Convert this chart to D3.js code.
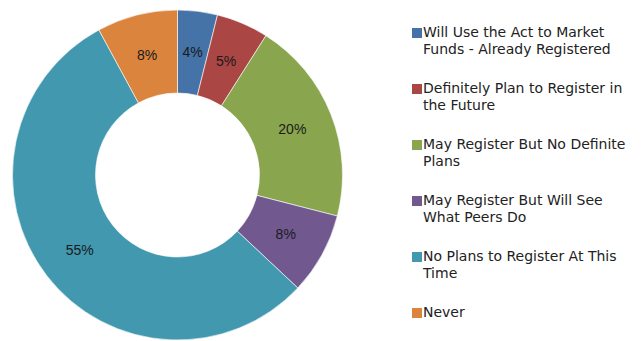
<!DOCTYPE html>
<html>
<head>
<meta charset="utf-8">
<script src="https://cdn.jsdelivr.net/npm/d3@7"></script>
<style>
  body { margin: 0; background: #fff; }
  svg text { font-family: "Liberation Sans", Arial, sans-serif; }
</style>
</head>
<body>
<div id="chart"></div>
<script>
// data
var categories = [
  ["Will Use the Act to Market", "Funds - Already Registered"],
  ["Definitely Plan to Register in", "the Future"],
  ["May Register But No Definite", "Plans"],
  ["May Register But Will See", "What Peers Do"],
  ["No Plans to Register At This", "Time"],
  ["Never"]
];
var values = [3.9, 5.1, 20.0, 8.0, 55.1, 7.9];
var labels = ["4%", "5%", "20%", "8%", "55%", "8%"];
var colors = ["#4572a7", "#aa4643", "#89a54e", "#71588f", "#4198af", "#db843d"];

var width = 644, height = 341;
var cx = 177.5, cy = 175, outerR = 165, innerR = 82;

var svg = d3.select("#chart")
    .append("svg")
    .attr("width", width)
    .attr("height", height);

var pie = d3.pie().sort(null).value(function(d) { return d; });
var arc = d3.arc().innerRadius(innerR).outerRadius(outerR);

var g = svg.append("g")
    .attr("transform", "translate(" + cx + "," + cy + ")");

var slices = g.selectAll("path")
    .data(pie(values))
    .enter()
    .append("path")
    .attr("d", arc)
    .style("fill", function(d, i) { return colors[i]; })
    .style("stroke", "#fff")
    .style("stroke-width", 0.6);

g.selectAll("text")
    .data(pie(values))
    .enter()
    .append("text")
    .attr("transform", function(d) { return "translate(" + arc.centroid(d) + ")"; })
    .attr("text-anchor", "middle")
    .attr("dy", "0.35em")
    .style("font-size", "14px")
    .style("fill", "#1a1a1a")
    .text(function(d, i) { return labels[i]; });

// legend
var legend_x = 412, legend_y = 32, legend_gap = 56, line_h = 17.5;
var leg = svg.append("g").selectAll("g")
    .data(categories)
    .enter()
    .append("g")
    .attr("transform", function(d, i) { return "translate(" + legend_x + "," + (legend_y + i * legend_gap) + ")"; });

leg.append("rect")
    .attr("x", 0).attr("y", -4)
    .attr("width", 10).attr("height", 10)
    .style("fill", function(d, i) { return colors[i]; });

leg.append("text")
    .attr("x", 11)
    .attr("y", 0)
    .style("font-family", "'DejaVu Sans', sans-serif")
    .style("font-size", "14px")
    .style("fill", "#222")
    .selectAll("tspan")
    .data(function(d) { return d; })
    .enter()
    .append("tspan")
    .attr("x", 11)
    .attr("dy", function(d, j) { return j == 0 ? "0.35em" : line_h; })
    .text(function(d) { return d; });
</script>
</body>
</html>
